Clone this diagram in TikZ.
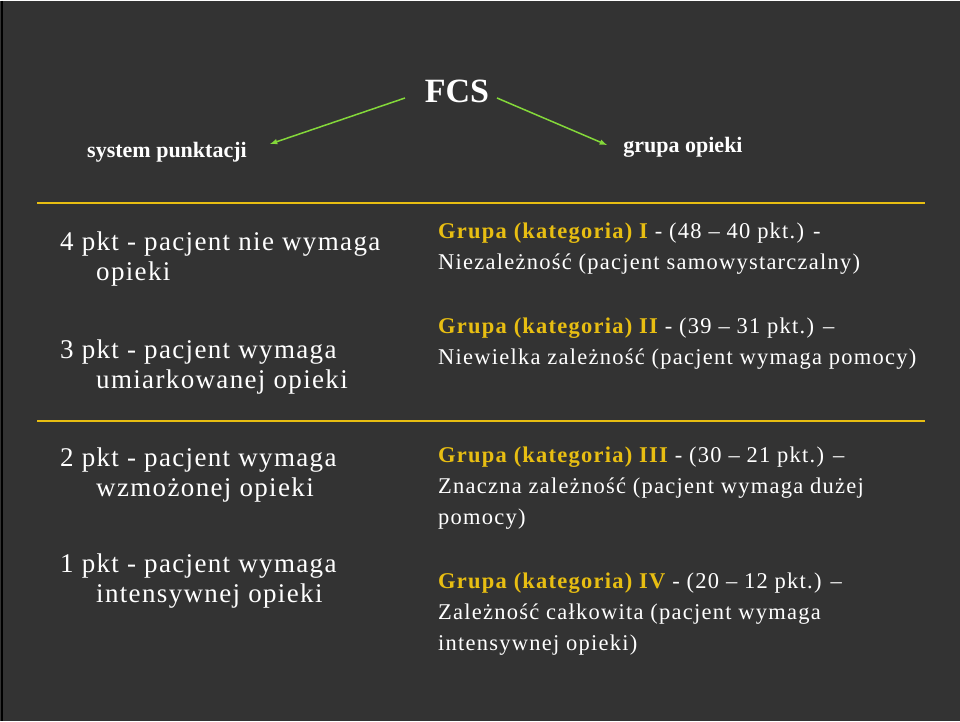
\documentclass[tikz,border=0pt]{standalone}
\usepackage{fontspec}
\setmainfont{Liberation Serif}
\newfontfamily\widefont[LetterSpace=5]{Liberation Serif}
\newfontfamily\widerfont[LetterSpace=5.5]{Liberation Serif}
\begin{document}
\begin{tikzpicture}[x=1pt,y=-1pt,
  every node/.style={inner sep=0pt,text=white},
  lft/.style={anchor=west,font=\widefont\fontsize{27}{30}\selectfont,align=left},
  rgt/.style={anchor=west,font=\widerfont\fontsize{22.5}{31}\selectfont,align=left},
  gold/.style={color=gold},
  arr/.style={draw=lgreen,line width=1.5pt,-latex}]
\definecolor{bg}{HTML}{333333}
\definecolor{gold}{HTML}{E8BE12}
\definecolor{lgreen}{HTML}{84D83A}
\fill[bg] (0,0) rectangle (960,720);
\draw[black,line width=2pt] (1.5,0) -- (1.5,720);
\useasboundingbox (0,0) rectangle (960,720);
\node (fcs) at (457,90) {\fontsize{34}{36}\selectfont\bfseries FCS};
\node (sp) at (167,151) {\fontsize{22}{24}\selectfont\bfseries system punktacji};
\node (go) at (683,146) {\fontsize{22}{24}\selectfont\bfseries grupa opieki};
\coordinate (a1) at (405,97); \coordinate (a2) at (497,97);
\draw[arr] (a1) -- (270,143);
\draw[arr] (a2) -- (607,144);
\draw[gold,line width=1.8pt] (37,202) -- (925,202);
\draw[gold,line width=1.8pt] (37,420) -- (925,420);
\node[lft] (l1) at (60,258) {4 pkt - pacjent nie wymaga\\\hspace*{36pt}opieki};
\node[lft] (l2) at (60,366) {3 pkt - pacjent wymaga\\\hspace*{36pt}umiarkowanej opieki};
\node[lft] (l3) at (60,474) {2 pkt - pacjent wymaga\\\hspace*{36pt}wzmożonej opieki};
\node[lft] (l4) at (60,580) {1 pkt - pacjent wymaga\\\hspace*{36pt}intensywnej opieki};
\node[rgt] (r1) at (438,248) {{\color{gold}\bfseries Grupa (kategoria) I} - (48 – 40 pkt.) -\\Niezależność (pacjent samowystarczalny)};
\node[rgt] (r2) at (438,343) {{\color{gold}\bfseries Grupa (kategoria) II} - (39 – 31 pkt.) –\\Niewielka zależność (pacjent wymaga pomocy)};
\node[rgt] (r3) at (438,487) {{\color{gold}\bfseries Grupa (kategoria) III} - (30 – 21 pkt.) –\\Znaczna zależność (pacjent wymaga dużej\\pomocy)};
\node[rgt] (r4) at (438,613) {{\color{gold}\bfseries Grupa (kategoria) IV} - (20 – 12 pkt.) –\\Zależność całkowita (pacjent wymaga\\intensywnej opieki)};
\end{tikzpicture}
\end{document}
